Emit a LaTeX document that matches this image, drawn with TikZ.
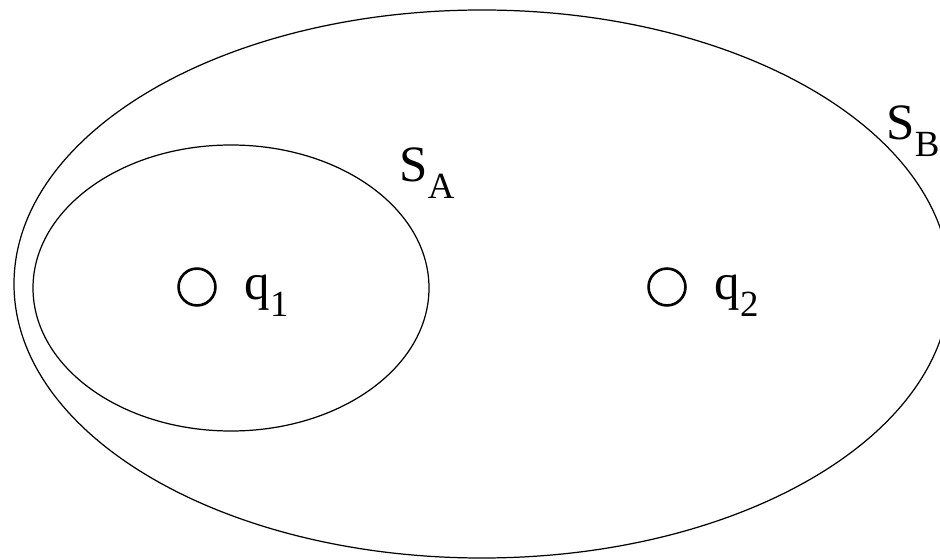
\documentclass[tikz,border=0pt]{standalone}
\usepackage{fontspec}
\setmainfont{Liberation Serif}
\newcommand{\setname}[2]{#1\raisebox{-0.32em}{\fontsize{21}{23}\selectfont #2}}
\tikzset{
  lbl/.style={font=\fontsize{29}{34}\selectfont, anchor=base west, inner sep=0pt},
  state/.style={circle, draw, line width=1.5pt, minimum size=21pt, inner sep=0pt}
}
\begin{document}
\begin{tikzpicture}[x=0.02cm, y=-0.02cm, line width=0.7pt]
  \useasboundingbox (0,0) rectangle (940,560);
  % outer and inner set
  \draw (482,284) ellipse (468 and 274);
  \draw (231,288) ellipse (198 and 143);
  \node[lbl] (sb) at (886,140) {\setname{S}{B}};
  \node[lbl] (sa) at (399,182) {\setname{S}{A}};
  % the two points
  \node[state] (p1) at (197,287) {};
  \node[state] (p2) at (667,287) {};
  \node[lbl] (q1) at (244,300) {\setname{q}{1}};
  \node[lbl] (q2) at (714,300) {\setname{q}{2}};
\end{tikzpicture}
\end{document}
